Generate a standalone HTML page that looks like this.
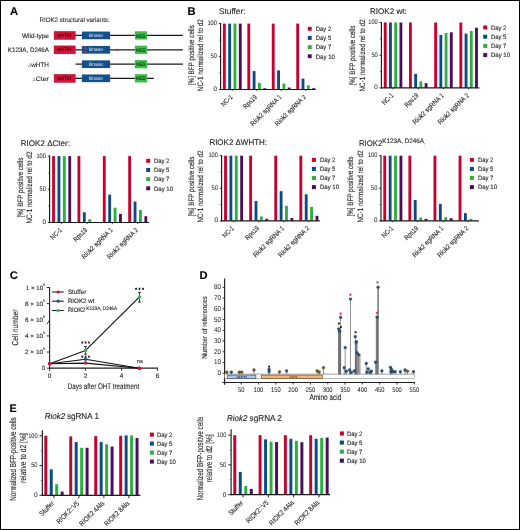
<!DOCTYPE html>
<html><head><meta charset="utf-8"><title>Figure</title>
<style>
html,body{margin:0;padding:0;background:#fff;overflow:hidden;width:520px;height:530px;}
svg{display:block;will-change:transform;}
text{font-family:"Liberation Sans", sans-serif;stroke:currentColor;stroke-width:0.12px;text-rendering:geometricPrecision;}
</style></head>
<body>
<svg width="520" height="530" viewBox="0 0 520 530" font-family='"Liberation Sans", sans-serif' fill='#231f20' color='#231f20'>
<rect x="0" y="0" width="520" height="530" fill="#fff"/>
<text x="10.00" y="14.80" font-size="11.2" font-weight="bold" fill="#000" color="#000">A</text>
<text x="39.60" y="22.00" font-size="6.4" style="stroke-width:0.08px" textLength="70.0" lengthAdjust="spacingAndGlyphs">RIOK2 structural variants:</text>
<text x="48.90" y="37.70" font-size="6.4" text-anchor="end" textLength="26.9" lengthAdjust="spacingAndGlyphs">Wild-type</text>
<line x1="54.50" y1="35.40" x2="182.90" y2="35.40" stroke="#1a1a1a" stroke-width="1.3" />
<rect x="54.10" y="31.50" width="21.10" height="7.90" fill="#d0143a" stroke="#a80020" stroke-width="0.5" />
<text x="64.00" y="37.00" font-size="5.0" style="stroke-width:0.12px" text-anchor="middle" textLength="14.0" lengthAdjust="spacingAndGlyphs" fill="#3c0008" color="#3c0008">wHTH</text>
<rect x="81.90" y="31.55" width="28.20" height="7.70" fill="#14508c" />
<text x="95.80" y="36.95" font-size="5.2" style="stroke-width:0.0px" text-anchor="middle" textLength="14.2" lengthAdjust="spacingAndGlyphs" fill="#dde7f2" color="#dde7f2">kinase</text>
<rect x="134.90" y="31.25" width="12.15" height="8.30" fill="#3cbe4b" />
<text x="140.90" y="37.50" font-size="5.1" style="stroke-width:0.15px" text-anchor="middle" textLength="9.8" lengthAdjust="spacingAndGlyphs" fill="#0c4318" color="#0c4318">NES</text>
<text x="48.90" y="52.10" font-size="6.4" text-anchor="end" textLength="41.1" lengthAdjust="spacingAndGlyphs">K123A, D246A</text>
<line x1="54.50" y1="49.80" x2="182.90" y2="49.80" stroke="#1a1a1a" stroke-width="1.3" />
<rect x="54.10" y="45.90" width="21.10" height="7.90" fill="#d0143a" stroke="#a80020" stroke-width="0.5" />
<text x="64.00" y="51.40" font-size="5.0" style="stroke-width:0.12px" text-anchor="middle" textLength="14.0" lengthAdjust="spacingAndGlyphs" fill="#3c0008" color="#3c0008">wHTH</text>
<rect x="81.90" y="45.95" width="28.20" height="7.70" fill="#14508c" />
<text x="95.80" y="51.35" font-size="5.2" style="stroke-width:0.0px" text-anchor="middle" textLength="14.2" lengthAdjust="spacingAndGlyphs" fill="#dde7f2" color="#dde7f2">kinase</text>
<rect x="134.90" y="45.65" width="12.15" height="8.30" fill="#3cbe4b" />
<text x="140.90" y="51.90" font-size="5.1" style="stroke-width:0.15px" text-anchor="middle" textLength="9.8" lengthAdjust="spacingAndGlyphs" fill="#0c4318" color="#0c4318">NES</text>
<rect x="84.60" y="45.95" width="1.20" height="7.70" fill="#e8202e" />
<circle cx="116.80" cy="49.80" r="1.0" fill="#e8202e"/>
<text x="48.90" y="66.50" font-size="6.4" text-anchor="end" textLength="17.7" lengthAdjust="spacingAndGlyphs">wHTH</text>
<text x="31.00" y="66.50" font-size="5.2" style="stroke-width:0.05px" text-anchor="end" textLength="3.0" lengthAdjust="spacingAndGlyphs" fill="#8a8a8a" color="#8a8a8a">Δ</text>
<line x1="75.50" y1="64.20" x2="182.90" y2="64.20" stroke="#1a1a1a" stroke-width="1.3" />
<rect x="81.90" y="60.35" width="28.20" height="7.70" fill="#14508c" />
<text x="95.80" y="65.75" font-size="5.2" style="stroke-width:0.0px" text-anchor="middle" textLength="14.2" lengthAdjust="spacingAndGlyphs" fill="#dde7f2" color="#dde7f2">kinase</text>
<rect x="134.90" y="60.05" width="12.15" height="8.30" fill="#3cbe4b" />
<text x="140.90" y="66.30" font-size="5.1" style="stroke-width:0.15px" text-anchor="middle" textLength="9.8" lengthAdjust="spacingAndGlyphs" fill="#0c4318" color="#0c4318">NES</text>
<text x="48.90" y="80.60" font-size="6.4" text-anchor="end" textLength="13.1" lengthAdjust="spacingAndGlyphs">Cter</text>
<text x="35.60" y="80.60" font-size="5.2" style="stroke-width:0.05px" text-anchor="end" textLength="3.0" lengthAdjust="spacingAndGlyphs" fill="#8a8a8a" color="#8a8a8a">Δ</text>
<line x1="54.50" y1="78.30" x2="153.90" y2="78.30" stroke="#1a1a1a" stroke-width="1.3" />
<rect x="54.10" y="74.40" width="21.10" height="7.90" fill="#d0143a" stroke="#a80020" stroke-width="0.5" />
<text x="64.00" y="79.90" font-size="5.0" style="stroke-width:0.12px" text-anchor="middle" textLength="14.0" lengthAdjust="spacingAndGlyphs" fill="#3c0008" color="#3c0008">wHTH</text>
<rect x="81.90" y="74.45" width="28.20" height="7.70" fill="#14508c" />
<text x="95.80" y="79.85" font-size="5.2" style="stroke-width:0.0px" text-anchor="middle" textLength="14.2" lengthAdjust="spacingAndGlyphs" fill="#dde7f2" color="#dde7f2">kinase</text>
<rect x="134.90" y="74.15" width="12.15" height="8.30" fill="#3cbe4b" />
<text x="140.90" y="80.40" font-size="5.1" style="stroke-width:0.15px" text-anchor="middle" textLength="9.8" lengthAdjust="spacingAndGlyphs" fill="#0c4318" color="#0c4318">NES</text>
<text x="187.60" y="14.70" font-size="11.2" font-weight="bold" fill="#000" color="#000">B</text>
<rect x="222.90" y="23.60" width="2.85" height="65.90" fill="#c8002d" />
<rect x="228.22" y="23.60" width="2.85" height="65.90" fill="#0b4a85" />
<rect x="233.54" y="23.60" width="2.85" height="65.90" fill="#2bb03f" />
<rect x="238.86" y="23.60" width="2.85" height="65.90" fill="#4b0f5a" />
<rect x="247.35" y="23.60" width="2.85" height="65.90" fill="#c8002d" />
<rect x="252.67" y="71.05" width="2.85" height="18.45" fill="#0b4a85" />
<rect x="257.99" y="82.91" width="2.85" height="6.59" fill="#2bb03f" />
<rect x="263.31" y="88.18" width="2.85" height="1.32" fill="#4b0f5a" />
<rect x="271.80" y="23.60" width="2.85" height="65.90" fill="#c8002d" />
<rect x="277.12" y="70.39" width="2.85" height="19.11" fill="#0b4a85" />
<rect x="282.44" y="83.57" width="2.85" height="5.93" fill="#2bb03f" />
<rect x="287.76" y="87.52" width="2.85" height="1.98" fill="#4b0f5a" />
<rect x="296.25" y="23.60" width="2.85" height="65.90" fill="#c8002d" />
<rect x="301.57" y="78.63" width="2.85" height="10.87" fill="#0b4a85" />
<rect x="306.89" y="85.28" width="2.85" height="4.22" fill="#2bb03f" />
<rect x="312.21" y="88.18" width="2.85" height="1.32" fill="#4b0f5a" />
<line x1="220.60" y1="23.10" x2="220.60" y2="90.10" stroke="#1a1a1a" stroke-width="1.15" />
<line x1="220.05" y1="89.50" x2="316.00" y2="89.50" stroke="#1a1a1a" stroke-width="1.2" />
<line x1="218.80" y1="23.60" x2="220.60" y2="23.60" stroke="#231f20" stroke-width="0.95" />
<text x="217.00" y="25.05" font-size="6.6" style="stroke-width:0.05px" text-anchor="end" textLength="9.6" lengthAdjust="spacingAndGlyphs">100</text>
<line x1="218.80" y1="56.55" x2="220.60" y2="56.55" stroke="#231f20" stroke-width="0.95" />
<text x="217.00" y="58.00" font-size="6.6" style="stroke-width:0.05px" text-anchor="end" textLength="6.4" lengthAdjust="spacingAndGlyphs">50</text>
<line x1="218.80" y1="89.50" x2="220.60" y2="89.50" stroke="#231f20" stroke-width="0.95" />
<text x="217.00" y="90.95" font-size="6.6" style="stroke-width:0.05px" text-anchor="end" textLength="3.5" lengthAdjust="spacingAndGlyphs">0</text>
<line x1="219.40" y1="73.03" x2="220.60" y2="73.03" stroke="#231f20" stroke-width="0.8" />
<line x1="219.40" y1="40.07" x2="220.60" y2="40.07" stroke="#231f20" stroke-width="0.8" />
<line x1="232.31" y1="89.50" x2="232.31" y2="90.90" stroke="#231f20" stroke-width="0.95" />
<text transform="translate(233.21,97.40) rotate(-45)" font-size="6.8" text-anchor="end" textLength="13.5" lengthAdjust="spacingAndGlyphs">NC-1</text>
<line x1="256.75" y1="89.50" x2="256.75" y2="90.90" stroke="#231f20" stroke-width="0.95" />
<text transform="translate(257.65,97.40) rotate(-45)" font-size="6.8" text-anchor="end" textLength="16.8" lengthAdjust="spacingAndGlyphs">Rps19</text>
<line x1="281.21" y1="89.50" x2="281.21" y2="90.90" stroke="#231f20" stroke-width="0.95" />
<text transform="translate(282.11,97.40) rotate(-45)" font-size="6.8" text-anchor="end" textLength="41.0" lengthAdjust="spacingAndGlyphs">Riok2 sgRNA 1</text>
<line x1="305.65" y1="89.50" x2="305.65" y2="90.90" stroke="#231f20" stroke-width="0.95" />
<text transform="translate(306.55,97.40) rotate(-45)" font-size="6.8" text-anchor="end" textLength="41.0" lengthAdjust="spacingAndGlyphs">Riok2 sgRNA 2</text>
<text transform="translate(193.90,55.15) rotate(-90)" font-size="7.9" text-anchor="middle" textLength="60.0" lengthAdjust="spacingAndGlyphs">[%] BFP positive cells</text>
<text transform="translate(203.40,55.15) rotate(-90)" font-size="7.9" text-anchor="middle" textLength="72.0" lengthAdjust="spacingAndGlyphs">NC-1 normalized rel to d2</text>
<rect x="307.80" y="26.85" width="3.90" height="3.90" fill="#c8002d" />
<text x="315.70" y="31.13" font-size="6.3" textLength="15.5" lengthAdjust="spacingAndGlyphs">Day 2</text>
<rect x="307.80" y="36.00" width="3.90" height="3.90" fill="#0b4a85" />
<text x="315.70" y="40.28" font-size="6.3" textLength="15.5" lengthAdjust="spacingAndGlyphs">Day 5</text>
<rect x="307.80" y="45.15" width="3.90" height="3.90" fill="#2bb03f" />
<text x="315.70" y="49.43" font-size="6.3" textLength="15.5" lengthAdjust="spacingAndGlyphs">Day 7</text>
<rect x="307.80" y="54.30" width="3.90" height="3.90" fill="#4b0f5a" />
<text x="315.70" y="58.58" font-size="6.3" textLength="19.2" lengthAdjust="spacingAndGlyphs">Day 10</text>
<text x="219.00" y="14.40" font-size="8.2" textLength="26.5" lengthAdjust="spacingAndGlyphs">Stuffer:</text>
<rect x="383.80" y="22.50" width="2.85" height="65.40" fill="#c8002d" />
<rect x="389.02" y="22.50" width="2.85" height="65.40" fill="#0b4a85" />
<rect x="394.24" y="22.50" width="2.85" height="65.40" fill="#2bb03f" />
<rect x="399.46" y="22.50" width="2.85" height="65.40" fill="#4b0f5a" />
<rect x="409.00" y="22.50" width="2.85" height="65.40" fill="#c8002d" />
<rect x="414.22" y="73.90" width="2.85" height="14.00" fill="#0b4a85" />
<rect x="419.44" y="81.29" width="2.85" height="6.61" fill="#2bb03f" />
<rect x="424.66" y="83.19" width="2.85" height="4.71" fill="#4b0f5a" />
<rect x="434.20" y="22.50" width="2.85" height="65.40" fill="#c8002d" />
<rect x="439.42" y="34.93" width="2.85" height="52.97" fill="#0b4a85" />
<rect x="444.64" y="32.96" width="2.85" height="54.94" fill="#2bb03f" />
<rect x="449.86" y="32.31" width="2.85" height="55.59" fill="#4b0f5a" />
<rect x="459.40" y="22.50" width="2.85" height="65.40" fill="#c8002d" />
<rect x="464.62" y="33.62" width="2.85" height="54.28" fill="#0b4a85" />
<rect x="469.84" y="31.00" width="2.85" height="56.90" fill="#2bb03f" />
<rect x="475.06" y="27.73" width="2.85" height="60.17" fill="#4b0f5a" />
<line x1="381.40" y1="22.00" x2="381.40" y2="88.50" stroke="#1a1a1a" stroke-width="1.15" />
<line x1="380.85" y1="87.90" x2="479.40" y2="87.90" stroke="#1a1a1a" stroke-width="1.2" />
<line x1="379.60" y1="22.50" x2="381.40" y2="22.50" stroke="#231f20" stroke-width="0.95" />
<text x="377.80" y="23.95" font-size="6.6" style="stroke-width:0.05px" text-anchor="end" textLength="9.6" lengthAdjust="spacingAndGlyphs">100</text>
<line x1="379.60" y1="55.20" x2="381.40" y2="55.20" stroke="#231f20" stroke-width="0.95" />
<text x="377.80" y="56.65" font-size="6.6" style="stroke-width:0.05px" text-anchor="end" textLength="6.4" lengthAdjust="spacingAndGlyphs">50</text>
<line x1="379.60" y1="87.90" x2="381.40" y2="87.90" stroke="#231f20" stroke-width="0.95" />
<text x="377.80" y="89.35" font-size="6.6" style="stroke-width:0.05px" text-anchor="end" textLength="3.5" lengthAdjust="spacingAndGlyphs">0</text>
<line x1="380.20" y1="71.55" x2="381.40" y2="71.55" stroke="#231f20" stroke-width="0.8" />
<line x1="380.20" y1="38.85" x2="381.40" y2="38.85" stroke="#231f20" stroke-width="0.8" />
<line x1="393.06" y1="87.90" x2="393.06" y2="89.30" stroke="#231f20" stroke-width="0.95" />
<text transform="translate(393.95,95.80) rotate(-45)" font-size="6.8" text-anchor="end" textLength="13.5" lengthAdjust="spacingAndGlyphs">NC-1</text>
<line x1="418.25" y1="87.90" x2="418.25" y2="89.30" stroke="#231f20" stroke-width="0.95" />
<text transform="translate(419.15,95.80) rotate(-45)" font-size="6.8" text-anchor="end" textLength="16.8" lengthAdjust="spacingAndGlyphs">Rps19</text>
<line x1="443.45" y1="87.90" x2="443.45" y2="89.30" stroke="#231f20" stroke-width="0.95" />
<text transform="translate(444.35,95.80) rotate(-45)" font-size="6.8" text-anchor="end" textLength="41.0" lengthAdjust="spacingAndGlyphs">Riok2 sgRNA 1</text>
<line x1="468.65" y1="87.90" x2="468.65" y2="89.30" stroke="#231f20" stroke-width="0.95" />
<text transform="translate(469.55,95.80) rotate(-45)" font-size="6.8" text-anchor="end" textLength="41.0" lengthAdjust="spacingAndGlyphs">Riok2 sgRNA 2</text>
<text transform="translate(354.90,55.50) rotate(-90)" font-size="7.9" text-anchor="middle" textLength="60.0" lengthAdjust="spacingAndGlyphs">[%] BFP positive cells</text>
<text transform="translate(365.00,55.50) rotate(-90)" font-size="7.9" text-anchor="middle" textLength="72.0" lengthAdjust="spacingAndGlyphs">NC-1 normalized rel to d2</text>
<rect x="483.20" y="25.50" width="4.00" height="4.00" fill="#c8002d" />
<text x="490.90" y="29.83" font-size="6.3" textLength="15.5" lengthAdjust="spacingAndGlyphs">Day 2</text>
<rect x="483.20" y="34.70" width="4.00" height="4.00" fill="#0b4a85" />
<text x="490.90" y="39.03" font-size="6.3" textLength="15.5" lengthAdjust="spacingAndGlyphs">Day 5</text>
<rect x="483.20" y="43.90" width="4.00" height="4.00" fill="#2bb03f" />
<text x="490.90" y="48.23" font-size="6.3" textLength="15.5" lengthAdjust="spacingAndGlyphs">Day 7</text>
<rect x="483.20" y="53.10" width="4.00" height="4.00" fill="#4b0f5a" />
<text x="490.90" y="57.43" font-size="6.3" textLength="19.2" lengthAdjust="spacingAndGlyphs">Day 10</text>
<text x="370.00" y="13.70" font-size="8.2" textLength="36.8" lengthAdjust="spacingAndGlyphs">RIOK2 wt:</text>
<rect x="52.10" y="156.10" width="2.85" height="66.40" fill="#c8002d" />
<rect x="57.50" y="156.10" width="2.85" height="66.40" fill="#0b4a85" />
<rect x="62.90" y="156.10" width="2.85" height="66.40" fill="#2bb03f" />
<rect x="68.30" y="156.10" width="2.85" height="66.40" fill="#4b0f5a" />
<rect x="77.47" y="156.10" width="2.85" height="66.40" fill="#c8002d" />
<rect x="82.87" y="212.27" width="2.85" height="10.23" fill="#0b4a85" />
<rect x="88.27" y="219.18" width="2.85" height="3.32" fill="#2bb03f" />
<rect x="102.84" y="156.10" width="2.85" height="66.40" fill="#c8002d" />
<rect x="108.24" y="194.61" width="2.85" height="27.89" fill="#0b4a85" />
<rect x="113.64" y="207.69" width="2.85" height="14.81" fill="#2bb03f" />
<rect x="119.04" y="213.87" width="2.85" height="8.63" fill="#4b0f5a" />
<rect x="128.21" y="156.10" width="2.85" height="66.40" fill="#c8002d" />
<rect x="133.61" y="201.52" width="2.85" height="20.98" fill="#0b4a85" />
<rect x="139.01" y="210.02" width="2.85" height="12.48" fill="#2bb03f" />
<rect x="144.41" y="216.19" width="2.85" height="6.31" fill="#4b0f5a" />
<line x1="49.60" y1="155.60" x2="49.60" y2="223.10" stroke="#1a1a1a" stroke-width="1.15" />
<line x1="49.05" y1="222.50" x2="148.90" y2="222.50" stroke="#1a1a1a" stroke-width="1.2" />
<line x1="47.80" y1="156.10" x2="49.60" y2="156.10" stroke="#231f20" stroke-width="0.95" />
<text x="46.00" y="157.55" font-size="6.6" style="stroke-width:0.05px" text-anchor="end" textLength="9.6" lengthAdjust="spacingAndGlyphs">100</text>
<line x1="47.80" y1="189.30" x2="49.60" y2="189.30" stroke="#231f20" stroke-width="0.95" />
<text x="46.00" y="190.75" font-size="6.6" style="stroke-width:0.05px" text-anchor="end" textLength="6.4" lengthAdjust="spacingAndGlyphs">50</text>
<line x1="47.80" y1="222.50" x2="49.60" y2="222.50" stroke="#231f20" stroke-width="0.95" />
<text x="46.00" y="223.95" font-size="6.6" style="stroke-width:0.05px" text-anchor="end" textLength="3.5" lengthAdjust="spacingAndGlyphs">0</text>
<line x1="48.40" y1="205.90" x2="49.60" y2="205.90" stroke="#231f20" stroke-width="0.8" />
<line x1="48.40" y1="172.70" x2="49.60" y2="172.70" stroke="#231f20" stroke-width="0.8" />
<line x1="61.62" y1="222.50" x2="61.62" y2="223.90" stroke="#231f20" stroke-width="0.95" />
<text transform="translate(62.52,230.40) rotate(-45)" font-size="6.8" text-anchor="end" textLength="13.5" lengthAdjust="spacingAndGlyphs">NC-1</text>
<line x1="87.00" y1="222.50" x2="87.00" y2="223.90" stroke="#231f20" stroke-width="0.95" />
<text transform="translate(87.90,230.40) rotate(-45)" font-size="6.8" text-anchor="end" textLength="16.8" lengthAdjust="spacingAndGlyphs">Rps19</text>
<line x1="112.37" y1="222.50" x2="112.37" y2="223.90" stroke="#231f20" stroke-width="0.95" />
<text transform="translate(113.27,230.40) rotate(-45)" font-size="6.8" text-anchor="end" textLength="41.0" lengthAdjust="spacingAndGlyphs">Riok2 sgRNA 1</text>
<line x1="137.74" y1="222.50" x2="137.74" y2="223.90" stroke="#231f20" stroke-width="0.95" />
<text transform="translate(138.64,230.40) rotate(-45)" font-size="6.8" text-anchor="end" textLength="41.0" lengthAdjust="spacingAndGlyphs">Riok2 sgRNA 2</text>
<text transform="translate(22.50,187.60) rotate(-90)" font-size="7.9" text-anchor="middle" textLength="60.0" lengthAdjust="spacingAndGlyphs">[%] BFP positive cells</text>
<text transform="translate(32.00,187.60) rotate(-90)" font-size="7.9" text-anchor="middle" textLength="72.0" lengthAdjust="spacingAndGlyphs">NC-1 normalized rel to d2</text>
<rect x="146.20" y="158.80" width="4.00" height="4.00" fill="#c8002d" />
<text x="153.90" y="163.13" font-size="6.3" textLength="15.5" lengthAdjust="spacingAndGlyphs">Day 2</text>
<rect x="146.20" y="167.97" width="4.00" height="4.00" fill="#0b4a85" />
<text x="153.90" y="172.30" font-size="6.3" textLength="15.5" lengthAdjust="spacingAndGlyphs">Day 5</text>
<rect x="146.20" y="177.14" width="4.00" height="4.00" fill="#2bb03f" />
<text x="153.90" y="181.47" font-size="6.3" textLength="15.5" lengthAdjust="spacingAndGlyphs">Day 7</text>
<rect x="146.20" y="186.31" width="4.00" height="4.00" fill="#4b0f5a" />
<text x="153.90" y="190.64" font-size="6.3" textLength="19.2" lengthAdjust="spacingAndGlyphs">Day 10</text>
<text x="20.80" y="146.10" font-size="8.2" textLength="49.2" lengthAdjust="spacingAndGlyphs">RIOK2 ΔCter:</text>
<rect x="224.10" y="155.70" width="2.85" height="65.10" fill="#c8002d" />
<rect x="229.47" y="155.70" width="2.85" height="65.10" fill="#0b4a85" />
<rect x="234.84" y="155.70" width="2.85" height="65.10" fill="#2bb03f" />
<rect x="240.21" y="155.70" width="2.85" height="65.10" fill="#4b0f5a" />
<rect x="249.20" y="155.70" width="2.85" height="65.10" fill="#c8002d" />
<rect x="254.57" y="201.07" width="2.85" height="19.73" fill="#0b4a85" />
<rect x="259.94" y="216.50" width="2.85" height="4.30" fill="#2bb03f" />
<rect x="265.31" y="218.85" width="2.85" height="1.95" fill="#4b0f5a" />
<rect x="274.30" y="155.70" width="2.85" height="65.10" fill="#c8002d" />
<rect x="279.67" y="191.18" width="2.85" height="29.62" fill="#0b4a85" />
<rect x="285.04" y="205.83" width="2.85" height="14.97" fill="#2bb03f" />
<rect x="290.41" y="218.00" width="2.85" height="2.80" fill="#4b0f5a" />
<rect x="299.40" y="155.70" width="2.85" height="65.10" fill="#c8002d" />
<rect x="304.77" y="194.30" width="2.85" height="26.50" fill="#0b4a85" />
<rect x="310.14" y="206.87" width="2.85" height="13.93" fill="#2bb03f" />
<rect x="315.51" y="215.79" width="2.85" height="5.01" fill="#4b0f5a" />
<line x1="221.60" y1="155.20" x2="221.60" y2="221.40" stroke="#1a1a1a" stroke-width="1.15" />
<line x1="221.05" y1="220.80" x2="319.80" y2="220.80" stroke="#1a1a1a" stroke-width="1.2" />
<line x1="219.80" y1="155.70" x2="221.60" y2="155.70" stroke="#231f20" stroke-width="0.95" />
<text x="218.00" y="157.15" font-size="6.6" style="stroke-width:0.05px" text-anchor="end" textLength="9.6" lengthAdjust="spacingAndGlyphs">100</text>
<line x1="219.80" y1="188.25" x2="221.60" y2="188.25" stroke="#231f20" stroke-width="0.95" />
<text x="218.00" y="189.70" font-size="6.6" style="stroke-width:0.05px" text-anchor="end" textLength="6.4" lengthAdjust="spacingAndGlyphs">50</text>
<line x1="219.80" y1="220.80" x2="221.60" y2="220.80" stroke="#231f20" stroke-width="0.95" />
<text x="218.00" y="222.25" font-size="6.6" style="stroke-width:0.05px" text-anchor="end" textLength="3.5" lengthAdjust="spacingAndGlyphs">0</text>
<line x1="220.40" y1="204.53" x2="221.60" y2="204.53" stroke="#231f20" stroke-width="0.8" />
<line x1="220.40" y1="171.97" x2="221.60" y2="171.97" stroke="#231f20" stroke-width="0.8" />
<line x1="233.58" y1="220.80" x2="233.58" y2="222.20" stroke="#231f20" stroke-width="0.95" />
<text transform="translate(234.48,228.70) rotate(-45)" font-size="6.8" text-anchor="end" textLength="13.5" lengthAdjust="spacingAndGlyphs">NC-1</text>
<line x1="258.68" y1="220.80" x2="258.68" y2="222.20" stroke="#231f20" stroke-width="0.95" />
<text transform="translate(259.58,228.70) rotate(-45)" font-size="6.8" text-anchor="end" textLength="16.8" lengthAdjust="spacingAndGlyphs">Rps19</text>
<line x1="283.78" y1="220.80" x2="283.78" y2="222.20" stroke="#231f20" stroke-width="0.95" />
<text transform="translate(284.68,228.70) rotate(-45)" font-size="6.8" text-anchor="end" textLength="41.0" lengthAdjust="spacingAndGlyphs">Riok2 sgRNA 1</text>
<line x1="308.88" y1="220.80" x2="308.88" y2="222.20" stroke="#231f20" stroke-width="0.95" />
<text transform="translate(309.78,228.70) rotate(-45)" font-size="6.8" text-anchor="end" textLength="41.0" lengthAdjust="spacingAndGlyphs">Riok2 sgRNA 2</text>
<text transform="translate(193.80,186.55) rotate(-90)" font-size="7.9" text-anchor="middle" textLength="60.0" lengthAdjust="spacingAndGlyphs">[%] BFP positive cells</text>
<text transform="translate(203.30,186.55) rotate(-90)" font-size="7.9" text-anchor="middle" textLength="72.0" lengthAdjust="spacingAndGlyphs">NC-1 normalized rel to d2</text>
<rect x="311.90" y="157.90" width="4.00" height="4.00" fill="#c8002d" />
<text x="319.90" y="162.23" font-size="6.3" textLength="15.5" lengthAdjust="spacingAndGlyphs">Day 2</text>
<rect x="311.90" y="166.97" width="4.00" height="4.00" fill="#0b4a85" />
<text x="319.90" y="171.30" font-size="6.3" textLength="15.5" lengthAdjust="spacingAndGlyphs">Day 5</text>
<rect x="311.90" y="176.04" width="4.00" height="4.00" fill="#2bb03f" />
<text x="319.90" y="180.37" font-size="6.3" textLength="15.5" lengthAdjust="spacingAndGlyphs">Day 7</text>
<rect x="311.90" y="185.11" width="4.00" height="4.00" fill="#4b0f5a" />
<text x="319.90" y="189.44" font-size="6.3" textLength="19.2" lengthAdjust="spacingAndGlyphs">Day 10</text>
<text x="209.40" y="145.40" font-size="8.2" textLength="57.6" lengthAdjust="spacingAndGlyphs">RIOK2 ΔWHTH:</text>
<rect x="383.30" y="155.70" width="2.85" height="65.10" fill="#c8002d" />
<rect x="388.70" y="155.70" width="2.85" height="65.10" fill="#0b4a85" />
<rect x="394.10" y="155.70" width="2.85" height="65.10" fill="#2bb03f" />
<rect x="399.50" y="155.70" width="2.85" height="65.10" fill="#4b0f5a" />
<rect x="408.40" y="155.70" width="2.85" height="65.10" fill="#c8002d" />
<rect x="413.80" y="199.97" width="2.85" height="20.83" fill="#0b4a85" />
<rect x="419.20" y="217.68" width="2.85" height="3.12" fill="#2bb03f" />
<rect x="424.60" y="218.85" width="2.85" height="1.95" fill="#4b0f5a" />
<rect x="433.50" y="155.70" width="2.85" height="65.10" fill="#c8002d" />
<rect x="438.90" y="203.87" width="2.85" height="16.93" fill="#0b4a85" />
<rect x="444.30" y="217.22" width="2.85" height="3.58" fill="#2bb03f" />
<rect x="449.70" y="218.20" width="2.85" height="2.60" fill="#4b0f5a" />
<rect x="458.60" y="155.70" width="2.85" height="65.10" fill="#c8002d" />
<rect x="464.00" y="213.12" width="2.85" height="7.68" fill="#0b4a85" />
<rect x="469.40" y="218.85" width="2.85" height="1.95" fill="#2bb03f" />
<rect x="474.80" y="220.41" width="2.85" height="0.39" fill="#4b0f5a" />
<line x1="381.00" y1="155.20" x2="381.00" y2="221.40" stroke="#1a1a1a" stroke-width="1.15" />
<line x1="380.45" y1="220.80" x2="478.90" y2="220.80" stroke="#1a1a1a" stroke-width="1.2" />
<line x1="379.20" y1="155.70" x2="381.00" y2="155.70" stroke="#231f20" stroke-width="0.95" />
<text x="377.40" y="157.15" font-size="6.6" style="stroke-width:0.05px" text-anchor="end" textLength="9.6" lengthAdjust="spacingAndGlyphs">100</text>
<line x1="379.20" y1="188.25" x2="381.00" y2="188.25" stroke="#231f20" stroke-width="0.95" />
<text x="377.40" y="189.70" font-size="6.6" style="stroke-width:0.05px" text-anchor="end" textLength="6.4" lengthAdjust="spacingAndGlyphs">50</text>
<line x1="379.20" y1="220.80" x2="381.00" y2="220.80" stroke="#231f20" stroke-width="0.95" />
<text x="377.40" y="222.25" font-size="6.6" style="stroke-width:0.05px" text-anchor="end" textLength="3.5" lengthAdjust="spacingAndGlyphs">0</text>
<line x1="379.80" y1="204.53" x2="381.00" y2="204.53" stroke="#231f20" stroke-width="0.8" />
<line x1="379.80" y1="171.97" x2="381.00" y2="171.97" stroke="#231f20" stroke-width="0.8" />
<line x1="392.82" y1="220.80" x2="392.82" y2="222.20" stroke="#231f20" stroke-width="0.95" />
<text transform="translate(393.72,228.70) rotate(-45)" font-size="6.8" text-anchor="end" textLength="13.5" lengthAdjust="spacingAndGlyphs">NC-1</text>
<line x1="417.93" y1="220.80" x2="417.93" y2="222.20" stroke="#231f20" stroke-width="0.95" />
<text transform="translate(418.82,228.70) rotate(-45)" font-size="6.8" text-anchor="end" textLength="16.8" lengthAdjust="spacingAndGlyphs">Rps19</text>
<line x1="443.02" y1="220.80" x2="443.02" y2="222.20" stroke="#231f20" stroke-width="0.95" />
<text transform="translate(443.92,228.70) rotate(-45)" font-size="6.8" text-anchor="end" textLength="41.0" lengthAdjust="spacingAndGlyphs">Riok2 sgRNA 1</text>
<line x1="468.12" y1="220.80" x2="468.12" y2="222.20" stroke="#231f20" stroke-width="0.95" />
<text transform="translate(469.02,228.70) rotate(-45)" font-size="6.8" text-anchor="end" textLength="41.0" lengthAdjust="spacingAndGlyphs">Riok2 sgRNA 2</text>
<text transform="translate(352.80,186.55) rotate(-90)" font-size="7.9" text-anchor="middle" textLength="60.0" lengthAdjust="spacingAndGlyphs">[%] BFP positive cells</text>
<text transform="translate(362.50,186.55) rotate(-90)" font-size="7.9" text-anchor="middle" textLength="72.0" lengthAdjust="spacingAndGlyphs">NC-1 normalized rel to d2</text>
<rect x="469.90" y="157.90" width="4.00" height="4.00" fill="#c8002d" />
<text x="477.90" y="162.23" font-size="6.3" textLength="15.5" lengthAdjust="spacingAndGlyphs">Day 2</text>
<rect x="469.90" y="166.97" width="4.00" height="4.00" fill="#0b4a85" />
<text x="477.90" y="171.30" font-size="6.3" textLength="15.5" lengthAdjust="spacingAndGlyphs">Day 5</text>
<rect x="469.90" y="176.04" width="4.00" height="4.00" fill="#2bb03f" />
<text x="477.90" y="180.37" font-size="6.3" textLength="15.5" lengthAdjust="spacingAndGlyphs">Day 7</text>
<rect x="469.90" y="185.11" width="4.00" height="4.00" fill="#4b0f5a" />
<text x="477.90" y="189.44" font-size="6.3" textLength="19.2" lengthAdjust="spacingAndGlyphs">Day 10</text>
<text x="358.90" y="145.50" font-size="8.2" textLength="23.4" lengthAdjust="spacingAndGlyphs">RIOK2</text>
<text x="382.30" y="143.10" font-size="6.4" textLength="41.6" lengthAdjust="spacingAndGlyphs">K123A, D246A</text>
<text x="423.90" y="145.50" font-size="4.6">:</text>
<text x="9.80" y="278.60" font-size="11.2" font-weight="bold" fill="#000" color="#000">C</text>
<line x1="49.60" y1="287.00" x2="49.60" y2="368.80" stroke="#231f20" stroke-width="1.1" />
<line x1="49.05" y1="368.20" x2="158.00" y2="368.20" stroke="#231f20" stroke-width="1.2" />
<line x1="46.60" y1="287.50" x2="49.60" y2="287.50" stroke="#231f20" stroke-width="0.9" />
<text x="43.10" y="289.60" font-size="6.2" text-anchor="end" textLength="17.3" lengthAdjust="spacingAndGlyphs">1 × 10</text>
<text x="43.30" y="285.90" font-size="3.6">6</text>
<line x1="46.60" y1="303.64" x2="49.60" y2="303.64" stroke="#231f20" stroke-width="0.9" />
<text x="43.10" y="305.74" font-size="6.2" text-anchor="end" textLength="18.1" lengthAdjust="spacingAndGlyphs">8 × 10</text>
<text x="43.30" y="302.04" font-size="3.6">5</text>
<text x="43.10" y="321.88" font-size="6.2" text-anchor="end" textLength="18.1" lengthAdjust="spacingAndGlyphs">6 × 10</text>
<text x="43.30" y="318.18" font-size="3.6">5</text>
<line x1="46.60" y1="335.92" x2="49.60" y2="335.92" stroke="#231f20" stroke-width="0.9" />
<text x="43.10" y="338.02" font-size="6.2" text-anchor="end" textLength="18.1" lengthAdjust="spacingAndGlyphs">4 × 10</text>
<text x="43.30" y="334.32" font-size="3.6">5</text>
<line x1="46.60" y1="352.06" x2="49.60" y2="352.06" stroke="#231f20" stroke-width="0.9" />
<text x="43.10" y="354.16" font-size="6.2" text-anchor="end" textLength="18.1" lengthAdjust="spacingAndGlyphs">2 × 10</text>
<text x="43.30" y="350.46" font-size="3.6">5</text>
<line x1="47.00" y1="368.20" x2="49.60" y2="368.20" stroke="#231f20" stroke-width="0.9" />
<text x="45.30" y="370.20" font-size="6.2" text-anchor="end">0</text>
<line x1="46.80" y1="324.40" x2="49.60" y2="320.00" stroke="#231f20" stroke-width="0.9" />
<line x1="49.60" y1="368.20" x2="49.60" y2="370.80" stroke="#231f20" stroke-width="0.9" />
<text x="49.60" y="378.20" font-size="6.4" text-anchor="middle">0</text>
<line x1="85.56" y1="368.20" x2="85.56" y2="370.80" stroke="#231f20" stroke-width="0.9" />
<text x="85.56" y="378.20" font-size="6.4" text-anchor="middle">2</text>
<line x1="121.52" y1="368.20" x2="121.52" y2="370.80" stroke="#231f20" stroke-width="0.9" />
<text x="121.52" y="378.20" font-size="6.4" text-anchor="middle">4</text>
<line x1="157.48" y1="368.20" x2="157.48" y2="370.80" stroke="#231f20" stroke-width="0.9" />
<text x="157.48" y="378.20" font-size="6.4" text-anchor="middle">6</text>
<text x="67.80" y="389.40" font-size="8.1" textLength="71.4" lengthAdjust="spacingAndGlyphs">Days after OHT treatment</text>
<text transform="translate(18.10,327.50) rotate(-90)" font-size="8.4" text-anchor="middle" textLength="36.0" lengthAdjust="spacingAndGlyphs">Cell number</text>
<polyline points="49.60,363.76 85.56,363.12 139.50,368.20" fill="none" stroke="#111" stroke-width="1.15" stroke-linejoin="round"/>
<polyline points="49.60,363.76 85.56,359.24 139.50,368.20" fill="none" stroke="#111" stroke-width="1.15" stroke-linejoin="round"/>
<polyline points="49.60,363.76 85.56,350.45 139.50,296.94" fill="none" stroke="#111" stroke-width="1.15" stroke-linejoin="round"/>
<line x1="85.56" y1="346.50" x2="85.56" y2="354.20" stroke="#231f20" stroke-width="0.8" />
<line x1="84.06" y1="346.50" x2="87.06" y2="346.50" stroke="#231f20" stroke-width="0.9" />
<line x1="84.06" y1="354.20" x2="87.06" y2="354.20" stroke="#231f20" stroke-width="0.9" />
<line x1="139.50" y1="292.40" x2="139.50" y2="302.10" stroke="#231f20" stroke-width="0.8" />
<line x1="138.00" y1="292.40" x2="141.00" y2="292.40" stroke="#231f20" stroke-width="0.9" />
<line x1="138.00" y1="302.10" x2="141.00" y2="302.10" stroke="#231f20" stroke-width="0.9" />
<circle cx="49.60" cy="363.76" r="1.75" fill="#31b545"/>
<circle cx="85.56" cy="350.45" r="1.75" fill="#31b545"/>
<circle cx="139.50" cy="296.94" r="1.75" fill="#31b545"/>
<circle cx="49.60" cy="363.76" r="1.75" fill="#12558f"/>
<circle cx="85.56" cy="359.24" r="1.75" fill="#12558f"/>
<circle cx="139.50" cy="368.20" r="1.75" fill="#12558f"/>
<circle cx="49.60" cy="363.76" r="1.75" fill="#d8102c"/>
<circle cx="85.56" cy="363.12" r="1.75" fill="#d8102c"/>
<circle cx="139.50" cy="368.20" r="1.75" fill="#d8102c"/>
<line x1="82.31" y1="341.35" x2="82.31" y2="343.65" stroke="#111" stroke-width="0.75" />
<line x1="81.31" y1="341.93" x2="83.31" y2="343.07" stroke="#111" stroke-width="0.75" />
<line x1="81.31" y1="343.07" x2="83.31" y2="341.93" stroke="#111" stroke-width="0.75" />
<line x1="85.56" y1="341.35" x2="85.56" y2="343.65" stroke="#111" stroke-width="0.75" />
<line x1="84.56" y1="341.93" x2="86.56" y2="343.07" stroke="#111" stroke-width="0.75" />
<line x1="84.56" y1="343.07" x2="86.56" y2="341.93" stroke="#111" stroke-width="0.75" />
<line x1="88.81" y1="341.35" x2="88.81" y2="343.65" stroke="#111" stroke-width="0.75" />
<line x1="87.81" y1="341.93" x2="89.81" y2="343.07" stroke="#111" stroke-width="0.75" />
<line x1="87.81" y1="343.07" x2="89.81" y2="341.93" stroke="#111" stroke-width="0.75" />
<line x1="82.31" y1="355.55" x2="82.31" y2="357.85" stroke="#111" stroke-width="0.75" />
<line x1="81.31" y1="356.12" x2="83.31" y2="357.27" stroke="#111" stroke-width="0.75" />
<line x1="81.31" y1="357.27" x2="83.31" y2="356.12" stroke="#111" stroke-width="0.75" />
<line x1="85.56" y1="355.55" x2="85.56" y2="357.85" stroke="#111" stroke-width="0.75" />
<line x1="84.56" y1="356.12" x2="86.56" y2="357.27" stroke="#111" stroke-width="0.75" />
<line x1="84.56" y1="357.27" x2="86.56" y2="356.12" stroke="#111" stroke-width="0.75" />
<line x1="88.81" y1="355.55" x2="88.81" y2="357.85" stroke="#111" stroke-width="0.75" />
<line x1="87.81" y1="356.12" x2="89.81" y2="357.27" stroke="#111" stroke-width="0.75" />
<line x1="87.81" y1="357.27" x2="89.81" y2="356.12" stroke="#111" stroke-width="0.75" />
<line x1="136.00" y1="287.65" x2="136.00" y2="289.95" stroke="#111" stroke-width="0.75" />
<line x1="135.00" y1="288.23" x2="137.00" y2="289.38" stroke="#111" stroke-width="0.75" />
<line x1="135.00" y1="289.38" x2="137.00" y2="288.23" stroke="#111" stroke-width="0.75" />
<line x1="139.50" y1="287.65" x2="139.50" y2="289.95" stroke="#111" stroke-width="0.75" />
<line x1="138.50" y1="288.23" x2="140.50" y2="289.38" stroke="#111" stroke-width="0.75" />
<line x1="138.50" y1="289.38" x2="140.50" y2="288.23" stroke="#111" stroke-width="0.75" />
<line x1="143.00" y1="287.65" x2="143.00" y2="289.95" stroke="#111" stroke-width="0.75" />
<line x1="142.00" y1="288.23" x2="144.00" y2="289.38" stroke="#111" stroke-width="0.75" />
<line x1="142.00" y1="289.38" x2="144.00" y2="288.23" stroke="#111" stroke-width="0.75" />
<text x="139.85" y="362.80" font-size="5.6" text-anchor="middle" textLength="6.1" lengthAdjust="spacingAndGlyphs">ns</text>
<line x1="52.10" y1="292.00" x2="63.80" y2="292.00" stroke="#231f20" stroke-width="1.1" />
<circle cx="58.10" cy="292.00" r="1.6" fill="#d8102c"/>
<text x="67.90" y="293.90" font-size="6.4" textLength="18.4" lengthAdjust="spacingAndGlyphs">Stuffer</text>
<line x1="52.10" y1="301.20" x2="63.80" y2="301.20" stroke="#231f20" stroke-width="1.1" />
<circle cx="58.10" cy="301.20" r="1.6" fill="#12558f"/>
<text x="67.90" y="303.10" font-size="6.4" textLength="26.5" lengthAdjust="spacingAndGlyphs">RIOK2 wt</text>
<line x1="52.10" y1="310.50" x2="63.80" y2="310.50" stroke="#231f20" stroke-width="1.1" />
<circle cx="58.10" cy="310.50" r="1.6" fill="#31b545"/>
<text x="67.90" y="312.40" font-size="6.4" textLength="17.4" lengthAdjust="spacingAndGlyphs">RIOK2</text>
<text x="86.30" y="310.10" font-size="4.9" textLength="30.7" lengthAdjust="spacingAndGlyphs">K123A, D246A</text>
<text x="199.60" y="278.80" font-size="11.2" font-weight="bold" fill="#000" color="#000">D</text>
<line x1="224.60" y1="278.50" x2="224.60" y2="384.80" stroke="#231f20" stroke-width="1.15" />
<line x1="222.40" y1="382.50" x2="414.90" y2="382.50" stroke="#231f20" stroke-width="1.2" />
<line x1="222.60" y1="373.30" x2="224.60" y2="373.30" stroke="#231f20" stroke-width="0.95" />
<text x="221.00" y="375.20" font-size="7.0" style="stroke-width:0.03px" text-anchor="end" textLength="3.6" lengthAdjust="spacingAndGlyphs">0</text>
<line x1="222.60" y1="362.56" x2="224.60" y2="362.56" stroke="#231f20" stroke-width="0.95" />
<text x="221.00" y="364.46" font-size="7.0" style="stroke-width:0.03px" text-anchor="end" textLength="7.0" lengthAdjust="spacingAndGlyphs">10</text>
<line x1="222.60" y1="351.82" x2="224.60" y2="351.82" stroke="#231f20" stroke-width="0.95" />
<text x="221.00" y="353.72" font-size="7.0" style="stroke-width:0.03px" text-anchor="end" textLength="7.0" lengthAdjust="spacingAndGlyphs">20</text>
<line x1="222.60" y1="341.08" x2="224.60" y2="341.08" stroke="#231f20" stroke-width="0.95" />
<text x="221.00" y="342.98" font-size="7.0" style="stroke-width:0.03px" text-anchor="end" textLength="7.0" lengthAdjust="spacingAndGlyphs">30</text>
<line x1="222.60" y1="330.34" x2="224.60" y2="330.34" stroke="#231f20" stroke-width="0.95" />
<text x="221.00" y="332.24" font-size="7.0" style="stroke-width:0.03px" text-anchor="end" textLength="7.0" lengthAdjust="spacingAndGlyphs">40</text>
<line x1="222.60" y1="319.60" x2="224.60" y2="319.60" stroke="#231f20" stroke-width="0.95" />
<text x="221.00" y="321.50" font-size="7.0" style="stroke-width:0.03px" text-anchor="end" textLength="7.0" lengthAdjust="spacingAndGlyphs">50</text>
<line x1="222.60" y1="308.86" x2="224.60" y2="308.86" stroke="#231f20" stroke-width="0.95" />
<text x="221.00" y="310.76" font-size="7.0" style="stroke-width:0.03px" text-anchor="end" textLength="7.0" lengthAdjust="spacingAndGlyphs">60</text>
<line x1="222.60" y1="298.12" x2="224.60" y2="298.12" stroke="#231f20" stroke-width="0.95" />
<text x="221.00" y="300.02" font-size="7.0" style="stroke-width:0.03px" text-anchor="end" textLength="7.0" lengthAdjust="spacingAndGlyphs">70</text>
<line x1="222.60" y1="287.38" x2="224.60" y2="287.38" stroke="#231f20" stroke-width="0.95" />
<text x="221.00" y="289.28" font-size="7.0" style="stroke-width:0.03px" text-anchor="end" textLength="7.0" lengthAdjust="spacingAndGlyphs">80</text>
<line x1="241.21" y1="382.50" x2="241.21" y2="384.50" stroke="#231f20" stroke-width="0.95" />
<text x="241.21" y="391.70" font-size="6.8" style="stroke-width:0.05px" text-anchor="middle" textLength="6.4" lengthAdjust="spacingAndGlyphs">50</text>
<line x1="258.52" y1="382.50" x2="258.52" y2="384.50" stroke="#231f20" stroke-width="0.95" />
<text x="258.52" y="391.70" font-size="6.8" style="stroke-width:0.05px" text-anchor="middle" textLength="9.6" lengthAdjust="spacingAndGlyphs">100</text>
<line x1="275.83" y1="382.50" x2="275.83" y2="384.50" stroke="#231f20" stroke-width="0.95" />
<text x="275.83" y="391.70" font-size="6.8" style="stroke-width:0.05px" text-anchor="middle" textLength="9.6" lengthAdjust="spacingAndGlyphs">150</text>
<line x1="293.14" y1="382.50" x2="293.14" y2="384.50" stroke="#231f20" stroke-width="0.95" />
<text x="293.14" y="391.70" font-size="6.8" style="stroke-width:0.05px" text-anchor="middle" textLength="9.6" lengthAdjust="spacingAndGlyphs">200</text>
<line x1="310.45" y1="382.50" x2="310.45" y2="384.50" stroke="#231f20" stroke-width="0.95" />
<text x="310.45" y="391.70" font-size="6.8" style="stroke-width:0.05px" text-anchor="middle" textLength="9.6" lengthAdjust="spacingAndGlyphs">250</text>
<line x1="327.76" y1="382.50" x2="327.76" y2="384.50" stroke="#231f20" stroke-width="0.95" />
<text x="327.76" y="391.70" font-size="6.8" style="stroke-width:0.05px" text-anchor="middle" textLength="9.6" lengthAdjust="spacingAndGlyphs">300</text>
<line x1="345.07" y1="382.50" x2="345.07" y2="384.50" stroke="#231f20" stroke-width="0.95" />
<text x="345.07" y="391.70" font-size="6.8" style="stroke-width:0.05px" text-anchor="middle" textLength="9.6" lengthAdjust="spacingAndGlyphs">350</text>
<line x1="362.38" y1="382.50" x2="362.38" y2="384.50" stroke="#231f20" stroke-width="0.95" />
<text x="362.38" y="391.70" font-size="6.8" style="stroke-width:0.05px" text-anchor="middle" textLength="9.6" lengthAdjust="spacingAndGlyphs">400</text>
<line x1="379.69" y1="382.50" x2="379.69" y2="384.50" stroke="#231f20" stroke-width="0.95" />
<text x="379.69" y="391.70" font-size="6.8" style="stroke-width:0.05px" text-anchor="middle" textLength="9.6" lengthAdjust="spacingAndGlyphs">450</text>
<line x1="397.00" y1="382.50" x2="397.00" y2="384.50" stroke="#231f20" stroke-width="0.95" />
<text x="397.00" y="391.70" font-size="6.8" style="stroke-width:0.05px" text-anchor="middle" textLength="9.6" lengthAdjust="spacingAndGlyphs">500</text>
<line x1="414.31" y1="382.50" x2="414.31" y2="384.50" stroke="#231f20" stroke-width="0.95" />
<text x="414.31" y="391.70" font-size="6.8" style="stroke-width:0.05px" text-anchor="middle" textLength="9.6" lengthAdjust="spacingAndGlyphs">550</text>
<text x="309.40" y="399.80" font-size="8.2" textLength="31.9" lengthAdjust="spacingAndGlyphs">Amino acid</text>
<text transform="translate(207.20,327.50) rotate(-90)" font-size="7.2" text-anchor="middle" textLength="62.4" lengthAdjust="spacingAndGlyphs">Number of references</text>
<rect x="224.60" y="374.2" width="190.10" height="4.3" rx="0.8" fill="#fff" stroke="#777" stroke-width="0.5"/>
<line x1="224.60" y1="374.40" x2="414.40" y2="374.40" stroke="#c2c2c2" stroke-width="1.1" />
<rect x="227.30" y="375.10" width="28.60" height="3.25" fill="#a9c8ea" stroke="#1f3550" stroke-width="0.55" />
<rect x="261.40" y="375.10" width="60.90" height="3.25" fill="#f7b27a" stroke="#5a3510" stroke-width="0.55" />
<text x="241.60" y="377.70" font-size="2.9" style="stroke-width:0.1px" text-anchor="middle" textLength="10.4" lengthAdjust="spacingAndGlyphs" fill="#2a3f5f" color="#2a3f5f">wHTH</text>
<text x="293.60" y="377.70" font-size="2.9" style="stroke-width:0.05px" text-anchor="middle" textLength="8.0" lengthAdjust="spacingAndGlyphs" fill="#5a3510" color="#5a3510">RIO1</text>
<rect x="338.10" y="330.00" width="2.90" height="44.40" fill="#8a8a8a" />
<rect x="355.00" y="340.00" width="2.60" height="34.40" fill="#8a8a8a" />
<rect x="357.40" y="354.00" width="3.30" height="20.40" fill="#b5b5b5" />
<rect x="375.80" y="317.50" width="2.80" height="56.90" fill="#8a8a8a" />
<rect x="377.40" y="288.00" width="1.40" height="30.00" fill="#8a8a8a" />
<line x1="226.80" y1="372.20" x2="226.80" y2="374.40" stroke="#666" stroke-width="0.7" />
<line x1="231.30" y1="372.20" x2="231.30" y2="374.40" stroke="#666" stroke-width="0.7" />
<line x1="239.30" y1="372.20" x2="239.30" y2="374.40" stroke="#666" stroke-width="0.7" />
<line x1="241.70" y1="372.20" x2="241.70" y2="374.40" stroke="#666" stroke-width="0.7" />
<line x1="254.00" y1="370.00" x2="254.00" y2="374.40" stroke="#666" stroke-width="0.7" />
<line x1="269.10" y1="371.50" x2="269.10" y2="374.40" stroke="#666" stroke-width="0.7" />
<line x1="269.10" y1="369.50" x2="269.10" y2="374.40" stroke="#666" stroke-width="0.7" />
<line x1="279.50" y1="371.90" x2="279.50" y2="374.40" stroke="#666" stroke-width="0.7" />
<line x1="286.60" y1="370.90" x2="286.60" y2="374.40" stroke="#666" stroke-width="0.7" />
<line x1="317.10" y1="370.80" x2="317.10" y2="374.40" stroke="#666" stroke-width="0.7" />
<line x1="319.20" y1="372.10" x2="319.20" y2="374.40" stroke="#666" stroke-width="0.7" />
<line x1="323.50" y1="367.70" x2="323.50" y2="374.40" stroke="#666" stroke-width="0.7" />
<line x1="340.60" y1="317.40" x2="340.60" y2="374.40" stroke="#666" stroke-width="0.7" />
<line x1="338.70" y1="329.00" x2="338.70" y2="374.40" stroke="#666" stroke-width="0.7" />
<line x1="339.70" y1="331.30" x2="339.70" y2="374.40" stroke="#666" stroke-width="0.7" />
<line x1="345.20" y1="347.60" x2="345.20" y2="374.40" stroke="#666" stroke-width="0.7" />
<line x1="344.20" y1="367.70" x2="344.20" y2="374.40" stroke="#666" stroke-width="0.7" />
<line x1="346.30" y1="371.20" x2="346.30" y2="374.40" stroke="#666" stroke-width="0.7" />
<line x1="350.50" y1="299.10" x2="350.50" y2="374.40" stroke="#666" stroke-width="0.7" />
<line x1="349.50" y1="369.90" x2="349.50" y2="374.40" stroke="#666" stroke-width="0.7" />
<line x1="351.40" y1="372.30" x2="351.40" y2="374.40" stroke="#666" stroke-width="0.7" />
<line x1="354.30" y1="370.90" x2="354.30" y2="374.40" stroke="#666" stroke-width="0.7" />
<line x1="355.30" y1="336.70" x2="355.30" y2="374.40" stroke="#666" stroke-width="0.7" />
<line x1="356.25" y1="342.20" x2="356.25" y2="374.40" stroke="#666" stroke-width="0.7" />
<line x1="357.20" y1="352.80" x2="357.20" y2="374.40" stroke="#666" stroke-width="0.7" />
<line x1="358.80" y1="354.80" x2="358.80" y2="374.40" stroke="#666" stroke-width="0.7" />
<line x1="366.30" y1="363.50" x2="366.30" y2="374.40" stroke="#666" stroke-width="0.7" />
<line x1="368.30" y1="368.90" x2="368.30" y2="374.40" stroke="#666" stroke-width="0.7" />
<line x1="366.80" y1="372.10" x2="366.80" y2="374.40" stroke="#666" stroke-width="0.7" />
<line x1="371.30" y1="371.20" x2="371.30" y2="374.40" stroke="#666" stroke-width="0.7" />
<line x1="370.20" y1="372.30" x2="370.20" y2="374.40" stroke="#666" stroke-width="0.7" />
<line x1="375.60" y1="362.20" x2="375.60" y2="374.40" stroke="#666" stroke-width="0.7" />
<line x1="378.10" y1="287.20" x2="378.10" y2="374.40" stroke="#666" stroke-width="0.7" />
<line x1="377.00" y1="317.10" x2="377.00" y2="374.40" stroke="#666" stroke-width="0.7" />
<line x1="381.90" y1="370.90" x2="381.90" y2="374.40" stroke="#666" stroke-width="0.7" />
<line x1="390.40" y1="367.30" x2="390.40" y2="374.40" stroke="#666" stroke-width="0.7" />
<line x1="391.50" y1="369.50" x2="391.50" y2="374.40" stroke="#666" stroke-width="0.7" />
<line x1="393.00" y1="371.70" x2="393.00" y2="374.40" stroke="#666" stroke-width="0.7" />
<line x1="390.80" y1="371.70" x2="390.80" y2="374.40" stroke="#666" stroke-width="0.7" />
<line x1="395.20" y1="371.70" x2="395.20" y2="374.40" stroke="#666" stroke-width="0.7" />
<line x1="400.40" y1="371.70" x2="400.40" y2="374.40" stroke="#666" stroke-width="0.7" />
<line x1="405.00" y1="370.00" x2="405.00" y2="374.40" stroke="#666" stroke-width="0.7" />
<line x1="407.50" y1="371.20" x2="407.50" y2="374.40" stroke="#666" stroke-width="0.7" />
<line x1="413.50" y1="371.70" x2="413.50" y2="374.40" stroke="#666" stroke-width="0.7" />
<circle cx="226.80" cy="372.20" r="1.4" fill="#8a5a12" stroke="#222" stroke-width="0.3"/>
<circle cx="231.30" cy="372.20" r="1.4" fill="#1b5a8c" stroke="#222" stroke-width="0.3"/>
<circle cx="239.30" cy="372.20" r="1.4" fill="#8a5a12" stroke="#222" stroke-width="0.3"/>
<circle cx="241.70" cy="372.20" r="1.4" fill="#8a5a12" stroke="#222" stroke-width="0.3"/>
<circle cx="254.00" cy="370.00" r="1.4" fill="#8a5a12" stroke="#222" stroke-width="0.3"/>
<circle cx="269.10" cy="371.50" r="1.4" fill="#1b5a8c" stroke="#222" stroke-width="0.3"/>
<circle cx="269.10" cy="369.50" r="1.4" fill="#1b5a8c" stroke="#222" stroke-width="0.3"/>
<circle cx="279.50" cy="371.90" r="1.4" fill="#8a5a12" stroke="#222" stroke-width="0.3"/>
<circle cx="286.60" cy="370.90" r="1.4" fill="#1b5a8c" stroke="#222" stroke-width="0.3"/>
<circle cx="317.10" cy="370.80" r="1.4" fill="#8a5a12" stroke="#222" stroke-width="0.3"/>
<circle cx="319.20" cy="372.10" r="1.4" fill="#8a5a12" stroke="#222" stroke-width="0.3"/>
<circle cx="323.50" cy="367.70" r="1.4" fill="#8a5a12" stroke="#222" stroke-width="0.3"/>
<circle cx="340.60" cy="317.40" r="1.4" fill="#1b5a8c" stroke="#222" stroke-width="0.3"/>
<circle cx="338.70" cy="329.00" r="1.4" fill="#1b5a8c" stroke="#222" stroke-width="0.3"/>
<circle cx="339.70" cy="331.30" r="1.4" fill="#1b5a8c" stroke="#222" stroke-width="0.3"/>
<circle cx="345.20" cy="347.60" r="1.4" fill="#1b5a8c" stroke="#222" stroke-width="0.3"/>
<circle cx="344.20" cy="367.70" r="1.4" fill="#1b5a8c" stroke="#222" stroke-width="0.3"/>
<circle cx="346.30" cy="371.20" r="1.4" fill="#1b5a8c" stroke="#222" stroke-width="0.3"/>
<circle cx="350.50" cy="299.10" r="1.4" fill="#1b5a8c" stroke="#222" stroke-width="0.3"/>
<circle cx="349.50" cy="369.90" r="1.4" fill="#1b5a8c" stroke="#222" stroke-width="0.3"/>
<circle cx="351.40" cy="372.30" r="1.4" fill="#1b5a8c" stroke="#222" stroke-width="0.3"/>
<circle cx="354.30" cy="370.90" r="1.4" fill="#1b5a8c" stroke="#222" stroke-width="0.3"/>
<circle cx="355.30" cy="336.70" r="1.4" fill="#1b5a8c" stroke="#222" stroke-width="0.3"/>
<circle cx="356.25" cy="342.20" r="1.4" fill="#1b5a8c" stroke="#222" stroke-width="0.3"/>
<circle cx="357.20" cy="352.80" r="1.4" fill="#1b5a8c" stroke="#222" stroke-width="0.3"/>
<circle cx="358.80" cy="354.80" r="1.4" fill="#1b5a8c" stroke="#222" stroke-width="0.3"/>
<circle cx="366.30" cy="363.50" r="1.4" fill="#1b5a8c" stroke="#222" stroke-width="0.3"/>
<circle cx="368.30" cy="368.90" r="1.4" fill="#1b5a8c" stroke="#222" stroke-width="0.3"/>
<circle cx="366.80" cy="372.10" r="1.4" fill="#1b5a8c" stroke="#222" stroke-width="0.3"/>
<circle cx="371.30" cy="371.20" r="1.4" fill="#1b5a8c" stroke="#222" stroke-width="0.3"/>
<circle cx="370.20" cy="372.30" r="1.4" fill="#1b5a8c" stroke="#222" stroke-width="0.3"/>
<circle cx="375.60" cy="362.20" r="1.4" fill="#1b5a8c" stroke="#222" stroke-width="0.3"/>
<circle cx="378.10" cy="287.20" r="1.4" fill="#1b5a8c" stroke="#222" stroke-width="0.3"/>
<circle cx="377.00" cy="317.10" r="1.4" fill="#1b5a8c" stroke="#222" stroke-width="0.3"/>
<circle cx="381.90" cy="370.90" r="1.4" fill="#1b5a8c" stroke="#222" stroke-width="0.3"/>
<circle cx="390.40" cy="367.30" r="1.4" fill="#1b5a8c" stroke="#222" stroke-width="0.3"/>
<circle cx="391.50" cy="369.50" r="1.4" fill="#1b5a8c" stroke="#222" stroke-width="0.3"/>
<circle cx="393.00" cy="371.70" r="1.4" fill="#1b5a8c" stroke="#222" stroke-width="0.3"/>
<circle cx="390.80" cy="371.70" r="1.4" fill="#1b5a8c" stroke="#222" stroke-width="0.3"/>
<circle cx="395.20" cy="371.70" r="1.4" fill="#1b5a8c" stroke="#222" stroke-width="0.3"/>
<circle cx="400.40" cy="371.70" r="1.4" fill="#1b5a8c" stroke="#222" stroke-width="0.3"/>
<circle cx="405.00" cy="370.00" r="1.4" fill="#1b5a8c" stroke="#222" stroke-width="0.3"/>
<circle cx="407.50" cy="371.20" r="1.4" fill="#8a5a12" stroke="#222" stroke-width="0.3"/>
<circle cx="413.50" cy="371.70" r="1.4" fill="#1b5a8c" stroke="#222" stroke-width="0.3"/>
<line x1="269.10" y1="365.40" x2="269.10" y2="367.80" stroke="#111" stroke-width="0.75" />
<line x1="268.06" y1="366.00" x2="270.14" y2="367.20" stroke="#111" stroke-width="0.75" />
<line x1="268.06" y1="367.20" x2="270.14" y2="366.00" stroke="#111" stroke-width="0.75" />
<line x1="339.00" y1="322.30" x2="339.00" y2="324.70" stroke="#111" stroke-width="0.75" />
<line x1="337.96" y1="322.90" x2="340.04" y2="324.10" stroke="#111" stroke-width="0.75" />
<line x1="337.96" y1="324.10" x2="340.04" y2="322.90" stroke="#111" stroke-width="0.75" />
<line x1="340.90" y1="325.80" x2="340.90" y2="328.20" stroke="#111" stroke-width="0.75" />
<line x1="339.86" y1="326.40" x2="341.94" y2="327.60" stroke="#111" stroke-width="0.75" />
<line x1="339.86" y1="327.60" x2="341.94" y2="326.40" stroke="#111" stroke-width="0.75" />
<line x1="355.60" y1="331.00" x2="355.60" y2="333.40" stroke="#111" stroke-width="0.75" />
<line x1="354.56" y1="331.60" x2="356.64" y2="332.80" stroke="#111" stroke-width="0.75" />
<line x1="354.56" y1="332.80" x2="356.64" y2="331.60" stroke="#111" stroke-width="0.75" />
<line x1="350.50" y1="293.35" x2="350.50" y2="295.85" stroke="#e8223f" stroke-width="0.8" />
<line x1="349.42" y1="293.98" x2="351.58" y2="295.23" stroke="#e8223f" stroke-width="0.8" />
<line x1="349.42" y1="295.23" x2="351.58" y2="293.98" stroke="#e8223f" stroke-width="0.8" />
<line x1="340.60" y1="312.35" x2="340.60" y2="314.85" stroke="#e8223f" stroke-width="0.8" />
<line x1="339.52" y1="312.98" x2="341.68" y2="314.23" stroke="#e8223f" stroke-width="0.8" />
<line x1="339.52" y1="314.23" x2="341.68" y2="312.98" stroke="#e8223f" stroke-width="0.8" />
<line x1="377.50" y1="281.15" x2="377.50" y2="283.65" stroke="#e8223f" stroke-width="0.8" />
<line x1="376.42" y1="281.77" x2="378.58" y2="283.02" stroke="#e8223f" stroke-width="0.8" />
<line x1="376.42" y1="283.02" x2="378.58" y2="281.77" stroke="#e8223f" stroke-width="0.8" />
<line x1="376.90" y1="311.65" x2="376.90" y2="314.15" stroke="#e8223f" stroke-width="0.8" />
<line x1="375.82" y1="312.27" x2="377.98" y2="313.52" stroke="#e8223f" stroke-width="0.8" />
<line x1="375.82" y1="313.52" x2="377.98" y2="312.27" stroke="#e8223f" stroke-width="0.8" />
<text x="9.60" y="411.90" font-size="10.8" font-weight="bold" fill="#000" color="#000">E</text>
<rect x="44.30" y="435.80" width="2.95" height="59.50" fill="#c8002d" />
<rect x="49.75" y="469.30" width="2.95" height="26.00" fill="#0b4a85" />
<rect x="55.20" y="484.23" width="2.95" height="11.07" fill="#2bb03f" />
<rect x="60.65" y="491.55" width="2.95" height="3.75" fill="#4b0f5a" />
<rect x="69.27" y="436.40" width="2.95" height="58.90" fill="#c8002d" />
<rect x="74.72" y="442.05" width="2.95" height="53.25" fill="#0b4a85" />
<rect x="80.17" y="447.76" width="2.95" height="47.54" fill="#2bb03f" />
<rect x="85.62" y="447.76" width="2.95" height="47.54" fill="#4b0f5a" />
<rect x="94.24" y="436.10" width="2.95" height="59.20" fill="#c8002d" />
<rect x="99.69" y="442.05" width="2.95" height="53.25" fill="#0b4a85" />
<rect x="105.14" y="444.25" width="2.95" height="51.05" fill="#2bb03f" />
<rect x="110.59" y="446.57" width="2.95" height="48.73" fill="#4b0f5a" />
<rect x="119.21" y="435.80" width="2.95" height="59.50" fill="#c8002d" />
<rect x="124.66" y="435.38" width="2.95" height="59.92" fill="#0b4a85" />
<rect x="130.11" y="435.38" width="2.95" height="59.92" fill="#2bb03f" />
<rect x="135.56" y="438.00" width="2.95" height="57.30" fill="#4b0f5a" />
<line x1="42.35" y1="430.20" x2="42.35" y2="495.90" stroke="#1a1a1a" stroke-width="1.15" />
<line x1="41.80" y1="495.30" x2="140.40" y2="495.30" stroke="#1a1a1a" stroke-width="1.2" />
<line x1="39.45" y1="435.80" x2="42.35" y2="435.80" stroke="#231f20" stroke-width="0.95" />
<text x="37.55" y="437.70" font-size="6.6" style="stroke-width:0.05px" text-anchor="end" textLength="9.4" lengthAdjust="spacingAndGlyphs">100</text>
<line x1="39.45" y1="465.55" x2="42.35" y2="465.55" stroke="#231f20" stroke-width="0.95" />
<text x="37.55" y="467.45" font-size="6.6" style="stroke-width:0.05px" text-anchor="end" textLength="6.4" lengthAdjust="spacingAndGlyphs">50</text>
<line x1="39.45" y1="495.30" x2="42.35" y2="495.30" stroke="#231f20" stroke-width="0.95" />
<text x="37.55" y="497.20" font-size="6.6" style="stroke-width:0.05px" text-anchor="end" textLength="3.6" lengthAdjust="spacingAndGlyphs">0</text>
<line x1="41.15" y1="480.43" x2="42.35" y2="480.43" stroke="#231f20" stroke-width="0.8" />
<line x1="41.15" y1="450.68" x2="42.35" y2="450.68" stroke="#231f20" stroke-width="0.8" />
<line x1="53.95" y1="495.30" x2="53.95" y2="498.20" stroke="#231f20" stroke-width="0.95" />
<text transform="translate(54.65,503.90) rotate(-45)" font-size="7.0" text-anchor="end" textLength="17.8" lengthAdjust="spacingAndGlyphs">Stuffer</text>
<line x1="78.92" y1="495.30" x2="78.92" y2="498.20" stroke="#231f20" stroke-width="0.95" />
<text transform="translate(79.62,503.90) rotate(-45)" font-size="7.0" text-anchor="end" textLength="28.8" lengthAdjust="spacingAndGlyphs">RIOK2::V5</text>
<line x1="103.89" y1="495.30" x2="103.89" y2="498.20" stroke="#231f20" stroke-width="0.95" />
<text transform="translate(104.59,503.90) rotate(-45)" font-size="7.0" text-anchor="end" textLength="31.8" lengthAdjust="spacingAndGlyphs">RIOK2 4Ala</text>
<line x1="128.86" y1="495.30" x2="128.86" y2="498.20" stroke="#231f20" stroke-width="0.95" />
<text transform="translate(129.56,503.90) rotate(-45)" font-size="7.0" text-anchor="end" textLength="31.8" lengthAdjust="spacingAndGlyphs">RIOK2 8Ala</text>
<text transform="translate(15.80,459.00) rotate(-90)" font-size="8.7" text-anchor="middle" textLength="83.5" lengthAdjust="spacingAndGlyphs">Normalized BFP-positive cells</text>
<text transform="translate(25.60,458.10) rotate(-90)" font-size="8.7" text-anchor="middle" textLength="49.6" lengthAdjust="spacingAndGlyphs">relative to d2 [%]</text>
<rect x="149.90" y="432.60" width="4.00" height="4.00" fill="#c8002d" />
<text x="156.90" y="436.93" font-size="6.3" textLength="15.5" lengthAdjust="spacingAndGlyphs">Day 2</text>
<rect x="149.90" y="441.60" width="4.00" height="4.00" fill="#0b4a85" />
<text x="156.90" y="445.93" font-size="6.3" textLength="15.5" lengthAdjust="spacingAndGlyphs">Day 5</text>
<rect x="149.90" y="450.60" width="4.00" height="4.00" fill="#2bb03f" />
<text x="156.90" y="454.93" font-size="6.3" textLength="15.5" lengthAdjust="spacingAndGlyphs">Day 7</text>
<rect x="149.90" y="459.60" width="4.00" height="4.00" fill="#4b0f5a" />
<text x="156.90" y="463.93" font-size="6.3" textLength="18.9" lengthAdjust="spacingAndGlyphs">Day 10</text>
<text x="44.70" y="418.80" font-size="8.6" textLength="20.6" lengthAdjust="spacingAndGlyphs" font-style="italic">Riok2</text>
<text x="66.90" y="418.80" font-size="8.6" textLength="32.1" lengthAdjust="spacingAndGlyphs">sgRNA 1</text>
<rect x="233.30" y="435.20" width="2.95" height="59.40" fill="#c8002d" />
<rect x="238.80" y="471.91" width="2.95" height="22.69" fill="#0b4a85" />
<rect x="244.30" y="485.93" width="2.95" height="8.67" fill="#2bb03f" />
<rect x="249.80" y="488.90" width="2.95" height="5.70" fill="#4b0f5a" />
<rect x="258.60" y="435.20" width="2.95" height="59.40" fill="#c8002d" />
<rect x="264.10" y="439.36" width="2.95" height="55.24" fill="#0b4a85" />
<rect x="269.60" y="441.73" width="2.95" height="52.87" fill="#2bb03f" />
<rect x="275.10" y="442.03" width="2.95" height="52.57" fill="#4b0f5a" />
<rect x="283.90" y="435.20" width="2.95" height="59.40" fill="#c8002d" />
<rect x="289.40" y="438.76" width="2.95" height="55.84" fill="#0b4a85" />
<rect x="294.90" y="440.90" width="2.95" height="53.70" fill="#2bb03f" />
<rect x="300.40" y="442.21" width="2.95" height="52.39" fill="#4b0f5a" />
<rect x="309.20" y="435.20" width="2.95" height="59.40" fill="#c8002d" />
<rect x="314.70" y="438.76" width="2.95" height="55.84" fill="#0b4a85" />
<rect x="320.20" y="437.99" width="2.95" height="56.61" fill="#2bb03f" />
<rect x="325.70" y="437.58" width="2.95" height="57.02" fill="#4b0f5a" />
<line x1="231.10" y1="429.20" x2="231.10" y2="495.20" stroke="#1a1a1a" stroke-width="1.15" />
<line x1="230.55" y1="494.60" x2="330.00" y2="494.60" stroke="#1a1a1a" stroke-width="1.2" />
<line x1="228.20" y1="435.20" x2="231.10" y2="435.20" stroke="#231f20" stroke-width="0.95" />
<text x="226.30" y="437.10" font-size="6.6" style="stroke-width:0.05px" text-anchor="end" textLength="9.4" lengthAdjust="spacingAndGlyphs">100</text>
<line x1="228.20" y1="464.90" x2="231.10" y2="464.90" stroke="#231f20" stroke-width="0.95" />
<text x="226.30" y="466.80" font-size="6.6" style="stroke-width:0.05px" text-anchor="end" textLength="6.4" lengthAdjust="spacingAndGlyphs">50</text>
<line x1="228.20" y1="494.60" x2="231.10" y2="494.60" stroke="#231f20" stroke-width="0.95" />
<text x="226.30" y="496.50" font-size="6.6" style="stroke-width:0.05px" text-anchor="end" textLength="3.6" lengthAdjust="spacingAndGlyphs">0</text>
<line x1="229.90" y1="479.75" x2="231.10" y2="479.75" stroke="#231f20" stroke-width="0.8" />
<line x1="229.90" y1="450.05" x2="231.10" y2="450.05" stroke="#231f20" stroke-width="0.8" />
<line x1="243.03" y1="494.60" x2="243.03" y2="497.50" stroke="#231f20" stroke-width="0.95" />
<text transform="translate(243.72,503.20) rotate(-45)" font-size="7.0" text-anchor="end" textLength="17.8" lengthAdjust="spacingAndGlyphs">Stuffer</text>
<line x1="268.33" y1="494.60" x2="268.33" y2="497.50" stroke="#231f20" stroke-width="0.95" />
<text transform="translate(269.03,503.20) rotate(-45)" font-size="7.0" text-anchor="end" textLength="28.8" lengthAdjust="spacingAndGlyphs">RIOK2::V5</text>
<line x1="293.63" y1="494.60" x2="293.63" y2="497.50" stroke="#231f20" stroke-width="0.95" />
<text transform="translate(294.33,503.20) rotate(-45)" font-size="7.0" text-anchor="end" textLength="31.8" lengthAdjust="spacingAndGlyphs">RIOK2 4Ala</text>
<line x1="318.93" y1="494.60" x2="318.93" y2="497.50" stroke="#231f20" stroke-width="0.95" />
<text transform="translate(319.63,503.20) rotate(-45)" font-size="7.0" text-anchor="end" textLength="31.8" lengthAdjust="spacingAndGlyphs">RIOK2 8Ala</text>
<text transform="translate(202.60,458.75) rotate(-90)" font-size="8.7" text-anchor="middle" textLength="83.7" lengthAdjust="spacingAndGlyphs">Normalized BFP-positive cells</text>
<text transform="translate(211.90,458.50) rotate(-90)" font-size="8.7" text-anchor="middle" textLength="48.2" lengthAdjust="spacingAndGlyphs">relative to d2 [%]</text>
<rect x="339.80" y="431.45" width="4.10" height="4.10" fill="#c8002d" />
<text x="346.90" y="435.83" font-size="6.3" textLength="15.5" lengthAdjust="spacingAndGlyphs">Day 2</text>
<rect x="339.80" y="440.52" width="4.10" height="4.10" fill="#0b4a85" />
<text x="346.90" y="444.90" font-size="6.3" textLength="15.5" lengthAdjust="spacingAndGlyphs">Day 5</text>
<rect x="339.80" y="449.59" width="4.10" height="4.10" fill="#2bb03f" />
<text x="346.90" y="453.97" font-size="6.3" textLength="15.5" lengthAdjust="spacingAndGlyphs">Day 7</text>
<rect x="339.80" y="458.66" width="4.10" height="4.10" fill="#4b0f5a" />
<text x="346.90" y="463.04" font-size="6.3" textLength="18.9" lengthAdjust="spacingAndGlyphs">Day 10</text>
<text x="227.10" y="421.40" font-size="8.6" textLength="20.2" lengthAdjust="spacingAndGlyphs" font-style="italic">Riok2</text>
<text x="249.60" y="421.40" font-size="8.6" textLength="32.3" lengthAdjust="spacingAndGlyphs">sgRNA 2</text>
<rect x="0.5" y="0.5" width="519" height="529" fill="none" stroke="#000" stroke-width="1"/>
</svg>
</body></html>
